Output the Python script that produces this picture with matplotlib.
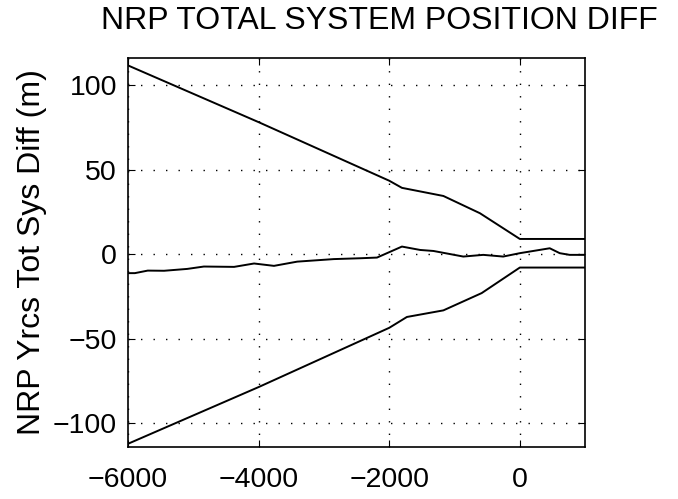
import matplotlib.pyplot as plt

plt.rcParams['font.family'] = ['Liberation Sans', 'DejaVu Sans']

# upper bound of the diff envelope
upper_x = [-6000, -4000, -2000, -1806, -1171, -611, 0, 1000]
upper_y = [111.5, 78.0, 43.4, 39.2, 34.4, 24.2, 9.0, 9.0]

# lower bound of the diff envelope
lower_x = [-6000, -4000, -2000, -1730, -1171, -585, 0, 1000]
lower_y = [-112.0, -78.5, -43.5, -37.1, -33.2, -23.0, -7.9, -7.9]

# actual position diff
diff_x = [-6000, -5897, -5700, -5450, -5094, -4840, -4377, -4071, -3766, -3410,
          -2850, -2443, -2188, -1806, -1527, -1323, -866, -560, -255,
          0, 458, 611, 763, 1000]
diff_y = [-11.2, -11.2, -9.7, -9.8, -8.7, -7.3, -7.5, -5.5, -6.9, -4.4,
          -2.9, -2.4, -2.0, 4.5, 2.5, 1.9, -1.4, -0.4, -1.4,
          0.6, 3.5, 0.6, -0.4, -0.4]

fig = plt.figure(figsize=(6.78, 4.99), dpi=100)
ax = fig.add_axes([0.189, 0.104, 0.674, 0.780])

ax.plot(upper_x, upper_y, color='black', lw=1.4)
ax.plot(lower_x, lower_y, color='black', lw=1.4)
ax.plot(diff_x, diff_y, color='black', lw=1.4)

ax.set_xlim(-6000, 1000)
ax.set_ylim(-114, 116)
ax.set_xticks([-6000, -4000, -2000, 0])
ax.set_yticks([-100, -50, 0, 50, 100])
ax.grid(True, linestyle=(0, (1, 8)), color='black', linewidth=1.0)
ax.tick_params(direction='in', top=True, right=True, labelsize=20.5, length=5)
ax.tick_params(axis='x', pad=14)
ax.tick_params(axis='y', pad=8)
for s in ax.spines.values():
    s.set_linewidth(1.2)

ax.set_ylabel('NRP Yrcs Tot Sys Diff (m)', fontsize=23, labelpad=4)
fig.text(0.559, 0.958, 'NRP TOTAL SYSTEM POSITION DIFF', fontsize=23,
         ha='center', va='center')

fig.savefig('out.png', dpi=100)
